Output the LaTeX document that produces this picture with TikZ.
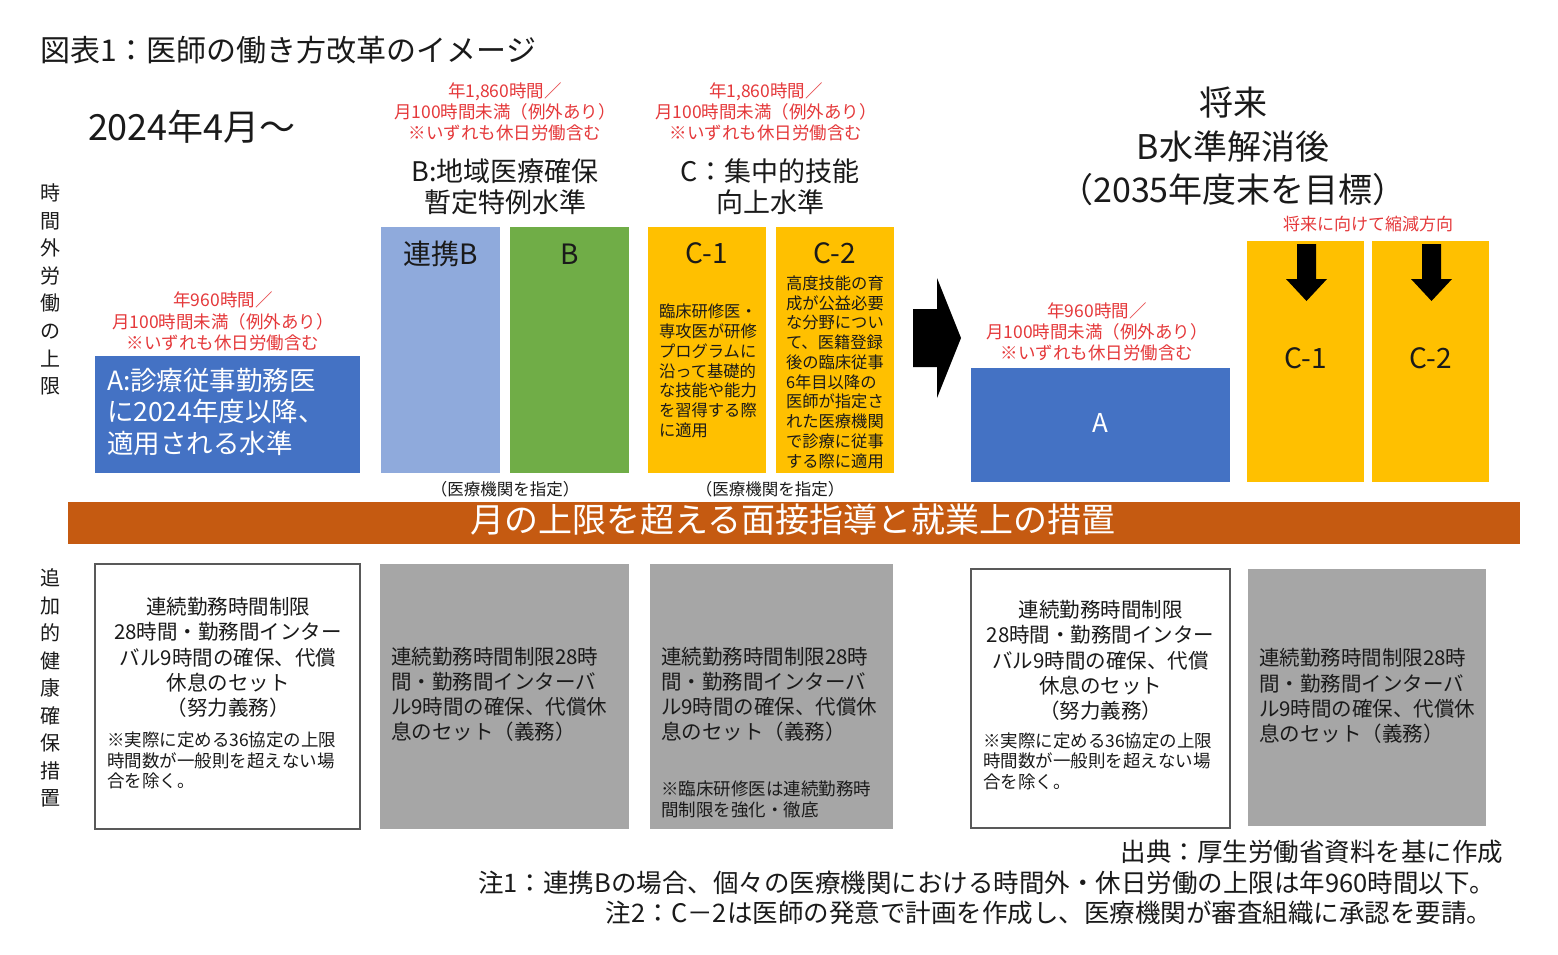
\documentclass[tikz,border=0pt]{standalone}
\usepackage{fontspec}
\setmainfont{Noto Sans CJK JP}
\definecolor{blueA}{HTML}{4472C4}
\definecolor{lblue}{HTML}{8FAADC}
\definecolor{greenB}{HTML}{70AD47}
\definecolor{goldC}{HTML}{FFC000}
\definecolor{bandO}{HTML}{C55A11}
\definecolor{grayBox}{HTML}{A6A6A6}
\definecolor{myred}{HTML}{E5393B}
\definecolor{edgeG}{HTML}{595959}
\definecolor{txtK}{HTML}{1A1A1A}
\newcommand\fsz[2]{\fontsize{#1pt}{#2pt}\selectfont}
\begin{document}
\begin{tikzpicture}[x=1pt,y=-1pt,
  box/.style={anchor=north west, inner sep=0pt, outer sep=0pt},
  t/.style={inner sep=0pt, outer sep=0pt, align=center, text=txtK},
  tl/.style={inner sep=0pt, outer sep=0pt, align=left, anchor=west, text=txtK},
  tr/.style={inner sep=0pt, outer sep=0pt, align=right, anchor=east, text=txtK},
  redtxt/.style={t, text=myred, font=\fsz{17.5}{21.2}},
  lab/.style={t, font=\fsz{28}{30}},
  head/.style={t, font=\fsz{27}{31}},
  desig/.style={t, font=\fsz{16.5}{18}},
  main/.style={font=\fsz{20.5}{25.2}},
  note/.style={font=\fsz{17.5}{20.5}},
  ctext/.style={tl, font=\fsz{16.3}{19.75}},
  whitebox/.style={box, fill=white, draw=edgeG, line width=1.1pt},
  graybox/.style={box, fill=grayBox},
]
\useasboundingbox (0,0) rectangle (1558,955);
\fill[white] (0,0) rectangle (1558,955);

% title and left labels
\node[tl, font=\fsz{30}{34}] (title) at (40,50) {図表1：医師の働き方改革のイメージ};
\node[tl, font=\fsz{36}{40}] (start) at (88,127) {2024年4月～};
\node[t, font=\fsz{20}{27.6}] (vlab1) at (50,289.5) {時\\間\\外\\労\\働\\の\\上\\限};
\node[t, font=\fsz{20}{27.5}] (vlab2) at (50,688) {追\\加\\的\\健\\康\\確\\保\\措\\置};

% A level
\node[redtxt] (redA) at (223,321.5) {年960時間／\\月100時間未満（例外あり）\\※いずれも休日労働含む};
\node[box, fill=blueA, minimum width=265pt, minimum height=117pt] (boxA) at (95,356) {};
\node[tl, text=white, font=\fsz{26.5}{31.5}] (txtA) at (107,411.5) {A:診療従事勤務医\\に2024年度以降、\\適用される水準};

% B level
\node[redtxt] (redB) at (505,112) {年1,860時間／\\月100時間未満（例外あり）\\※いずれも休日労働含む};
\node[head] (headB) at (505,186.5) {B:地域医療確保\\暫定特例水準};
\node[box, fill=lblue, minimum width=119pt, minimum height=246pt] (boxRB) at (381,227) {};
\node[lab] (labRB) at (440.5,254) {連携B};
\node[box, fill=greenB, minimum width=119pt, minimum height=246pt] (boxB) at (510,227) {};
\node[lab] (labB) at (569.5,254) {B};
\node[desig] (desigB) at (505,489) {（医療機関を指定）};

% C level
\node[redtxt] (redC) at (766,112) {年1,860時間／\\月100時間未満（例外あり）\\※いずれも休日労働含む};
\node[head] (headC) at (770,186.5) {C：集中的技能\\向上水準};
\node[box, fill=goldC, minimum width=118pt, minimum height=246pt] (boxC1) at (648,227) {};
\node[lab] (labC1) at (707,253) {C-1};
\node[ctext] (txtC1) at (659,371) {臨床研修医・\\専攻医が研修\\プログラムに\\沿って基礎的\\な技能や能力\\を習得する際\\に適用};
\node[box, fill=goldC, minimum width=118pt, minimum height=246pt] (boxC2) at (776,227) {};
\node[lab] (labC2) at (835,253) {C-2};
\node[ctext] (txtC2) at (786,372) {高度技能の育\\成が公益必要\\な分野につい\\て、医籍登録\\後の臨床従事\\6年目以降の\\医師が指定さ\\れた医療機関\\で診療に従事\\する際に適用};
\node[desig] (desigC) at (770,489) {（医療機関を指定）};

% big arrow
\fill[black] (913,309) -- (937,309) -- (937,278) -- (961,338) -- (937,398) -- (937,367) -- (913,367) -- cycle;

% future
\node[t, font=\fsz{34}{43.5}] (headF) at (1233,146.5) {将来\\B水準解消後\\（2035年度末を目標）};
\node[t, text=myred, font=\fsz{17}{18}] (redF) at (1368,224) {将来に向けて縮減方向};
\node[redtxt] (redA2) at (1097,332) {年960時間／\\月100時間未満（例外あり）\\※いずれも休日労働含む};
\node[box, fill=blueA, minimum width=259pt, minimum height=114pt] (boxA2) at (971,368) {};
\node[t, text=white, font=\fsz{26}{28}] (labA2) at (1100.5,423) {A};
\node[box, fill=goldC, minimum width=117pt, minimum height=241pt] (boxFC1) at (1247,241) {};
\node[lab] (labFC1) at (1305.5,358) {C-1};
\node[box, fill=goldC, minimum width=117pt, minimum height=241pt] (boxFC2) at (1372,241) {};
\node[lab] (labFC2) at (1430.5,358) {C-2};
\fill[black] (1297,244) -- (1316,244) -- (1316,279) -- (1327,279) -- (1306.5,301) -- (1286,279) -- (1297,279) -- cycle;
\fill[black] (1422,244) -- (1441,244) -- (1441,279) -- (1452,279) -- (1431.5,301) -- (1411,279) -- (1422,279) -- cycle;

% band
\node[box, fill=bandO, minimum width=1452pt, minimum height=42pt] (band) at (68,502) {};
\node[t, text=white, font=\fsz{34}{36}] (bandtxt) at (793,520) {月の上限を超える面接指導と就業上の措置};

% bottom boxes
\node[whitebox, minimum width=265pt, minimum height=265pt] (hb1) at (95,564) {};
\node[t, main] (hb1t) at (228,657.5) {連続勤務時間制限\\28時間・勤務間インター\\バル9時間の確保、代償\\休息のセット\\（努力義務）};
\node[tl, note] (hb1n) at (107,760.5) {※実際に定める36協定の上限\\時間数が一般則を超えない場\\合を除く。};

\node[graybox, minimum width=249pt, minimum height=265pt] (hb2) at (380,564) {};
\node[tl, main] (hb2t) at (391,694.5) {連続勤務時間制限28時\\間・勤務間インターバ\\ル9時間の確保、代償休\\息のセット（義務）};

\node[graybox, minimum width=243pt, minimum height=265pt] (hb3) at (650,564) {};
\node[tl, main] (hb3t) at (661,694.5) {連続勤務時間制限28時\\間・勤務間インターバ\\ル9時間の確保、代償休\\息のセット（義務）};
\node[tl, note] (hb3n) at (661,799.5) {※臨床研修医は連続勤務時\\間制限を強化・徹底};

\node[whitebox, minimum width=259pt, minimum height=259pt] (hb4) at (971,569) {};
\node[t, main] (hb4t) at (1100.5,660.5) {連続勤務時間制限\\28時間・勤務間インター\\バル9時間の確保、代償\\休息のセット\\（努力義務）};
\node[tl, note] (hb4n) at (983,761) {※実際に定める36協定の上限\\時間数が一般則を超えない場\\合を除く。};

\node[graybox, minimum width=238pt, minimum height=257pt] (hb5) at (1248,569) {};
\node[tl, main] (hb5t) at (1259,696) {連続勤務時間制限28時\\間・勤務間インターバ\\ル9時間の確保、代償休\\息のセット（義務）};

% footer
\node[tr, font=\fsz{25.5}{27}] (src) at (1503,852) {出典：厚生労働省資料を基に作成};
\node[tr, font=\fsz{25.5}{27}] (n1) at (1495,883) {注1：連携Bの場合、個々の医療機関における時間外・休日労働の上限は年960時間以下。};
\node[tr, font=\fsz{25.5}{27}] (n2) at (1492,913) {注2：C－2は医師の発意で計画を作成し、医療機関が審査組織に承認を要請。};
\end{tikzpicture}
\end{document}
